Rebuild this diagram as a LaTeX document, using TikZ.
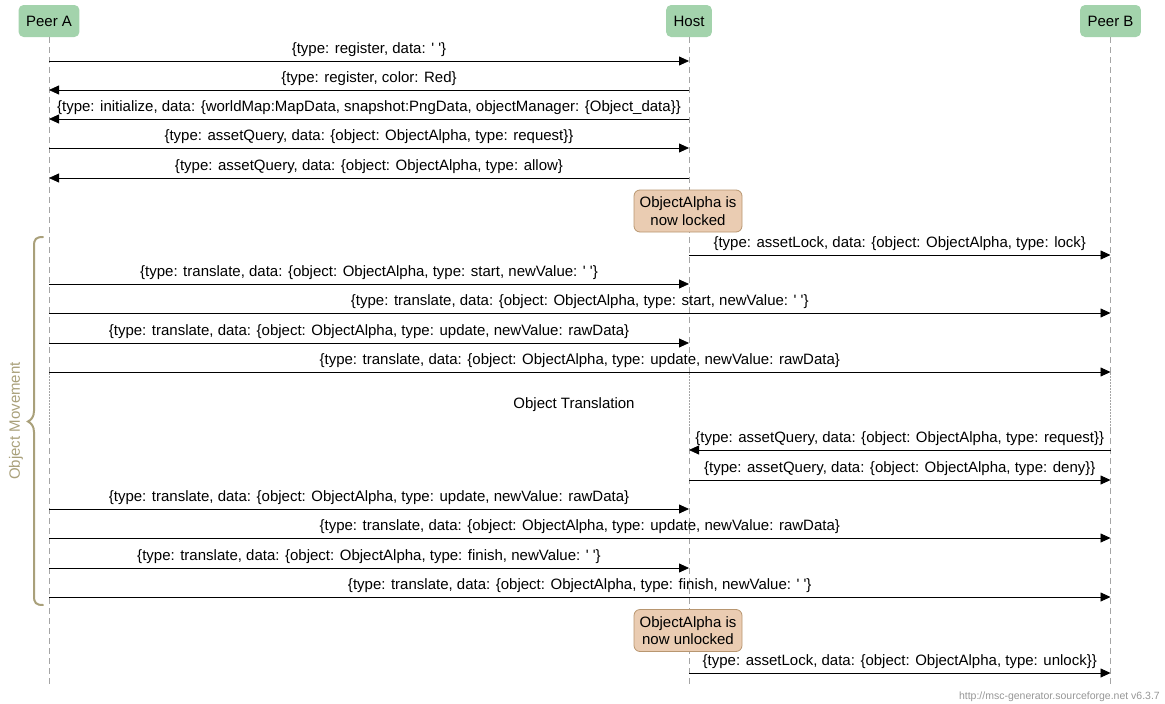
\documentclass[tikz,border=0pt]{standalone}
\usepackage{fontspec}
\setmainfont{Liberation Sans}
\usetikzlibrary{arrows.meta}
\definecolor{entityfill}{RGB}{163,211,172}
\definecolor{notefill}{RGB}{234,204,178}
\definecolor{noteline}{RGB}{184,150,112}
\definecolor{lifegray}{RGB}{165,165,165}
\definecolor{bracecol}{RGB}{169,160,122}
\definecolor{creditgray}{RGB}{150,150,150}
\newcommand\sq{\textquotesingle}
\tikzset{
  txt/.style={font=\fontsize{15}{17.5}\selectfont},
  entity/.style={txt, fill=entityfill, rounded corners=5pt, minimum height=32pt,
    inner xsep=7.5pt},
  lifeline/.style={draw=lifegray, line width=0.8pt, dash pattern=on 6pt off 4pt},
  lifedots/.style={draw=lifegray, line width=0.8pt, dash pattern=on 1.5pt off 1.5pt},
  msgarrow/.style={draw=black, line width=0.8pt, -{Triangle[length=10pt,width=9pt]}},
  msglabel/.style={txt, anchor=base, yshift=8pt, inner sep=0pt},
  notebox/.style={txt, fill=notefill, draw=noteline, line width=0.8pt, rounded corners=6pt,
    align=center, minimum width=108pt, minimum height=42pt, inner sep=2pt},
}
\newcommand\sendmsg[4]{\draw[msgarrow] (#1 |- 0,#3) -- node[msglabel]{#4} (#2 |- 0,#3);}
\begin{document}
\begin{tikzpicture}[x=1pt,y=-1pt]
  \useasboundingbox (0,0) rectangle (1165,704);
  % participants
  \node[entity] (A) at (49,21) {Peer A};
  \node[entity] (H) at (689,21) {Host};
  \node[entity] (B) at (1110.5,21) {Peer B};
  % lifelines, dotted across the translation gap
  \foreach \p in {A,H,B}{
    \draw[lifeline] (\p.south) -- (\p.south |- 0,373);
    \draw[lifedots] (\p.south |- 0,373) -- (\p.south |- 0,428);
    \draw[lifeline] (\p.south |- 0,428) -- (\p.south |- 0,685);
  }
  % handshake
  \sendmsg{A.south}{H.south}{61}{\{type: register, data: \sq\ \sq\}}
  \sendmsg{H.south}{A.south}{90}{\{type: register, color: Red\}}
  \sendmsg{H.south}{A.south}{119}{\{type: initialize, data: \{worldMap:MapData, snapshot:PngData, objectManager: \{Object\_data\}\}}
  \sendmsg{A.south}{H.south}{148}{\{type: assetQuery, data: \{object: ObjectAlpha, type: request\}\}}
  \sendmsg{H.south}{A.south}{178}{\{type: assetQuery, data: \{object: ObjectAlpha, type: allow\}}
  \node[notebox] (lock) at (688,211) {ObjectAlpha is\\now locked};
  \sendmsg{H.south}{B.south}{255}{\{type: assetLock, data: \{object: ObjectAlpha, type: lock\}}
  % movement
  \sendmsg{A.south}{H.south}{284}{\{type: translate, data: \{object: ObjectAlpha, type: start, newValue: \sq\ \sq\}}
  \sendmsg{A.south}{B.south}{313}{\{type: translate, data: \{object: ObjectAlpha, type: start, newValue: \sq\ \sq\}}
  \sendmsg{A.south}{H.south}{343}{\{type: translate, data: \{object: ObjectAlpha, type: update, newValue: rawData\}}
  \sendmsg{A.south}{B.south}{372}{\{type: translate, data: \{object: ObjectAlpha, type: update, newValue: rawData\}}
  \node[txt] (gap) at (574,405) {Object Translation};
  \sendmsg{B.south}{H.south}{450}{\{type: assetQuery, data: \{object: ObjectAlpha, type: request\}\}}
  \sendmsg{H.south}{B.south}{480}{\{type: assetQuery, data: \{object: ObjectAlpha, type: deny\}\}}
  \sendmsg{A.south}{H.south}{509}{\{type: translate, data: \{object: ObjectAlpha, type: update, newValue: rawData\}}
  \sendmsg{A.south}{B.south}{538}{\{type: translate, data: \{object: ObjectAlpha, type: update, newValue: rawData\}}
  \sendmsg{A.south}{H.south}{568}{\{type: translate, data: \{object: ObjectAlpha, type: finish, newValue: \sq\ \sq\}}
  \sendmsg{A.south}{B.south}{597}{\{type: translate, data: \{object: ObjectAlpha, type: finish, newValue: \sq\ \sq\}}
  \node[notebox] (unlock) at (688,630.5) {ObjectAlpha is\\now unlocked};
  \sendmsg{H.south}{B.south}{673}{\{type: assetLock, data: \{object: ObjectAlpha, type: unlock\}\}}
  % brace grouping the movement block
  \draw[bracecol, line width=2pt, line cap=round]
    (43,237) .. controls (36,237) and (34,239) .. (34,246) -- (34,411)
    .. controls (34,417) and (31,420) .. (28,421.5)
    .. controls (31,423) and (34,426) .. (34,432) -- (34,596)
    .. controls (34,603) and (36,605) .. (43,605);
  \node[txt, rotate=90, text=bracecol] (grp) at (16,421) {Object Movement};
  % credit line
  \node[anchor=east, text=creditgray, inner sep=0pt, font=\fontsize{10.5}{12}\selectfont] (credit) at (1160,697) {http://msc-generator.sourceforge.net v6.3.7};
\end{tikzpicture}
\end{document}
